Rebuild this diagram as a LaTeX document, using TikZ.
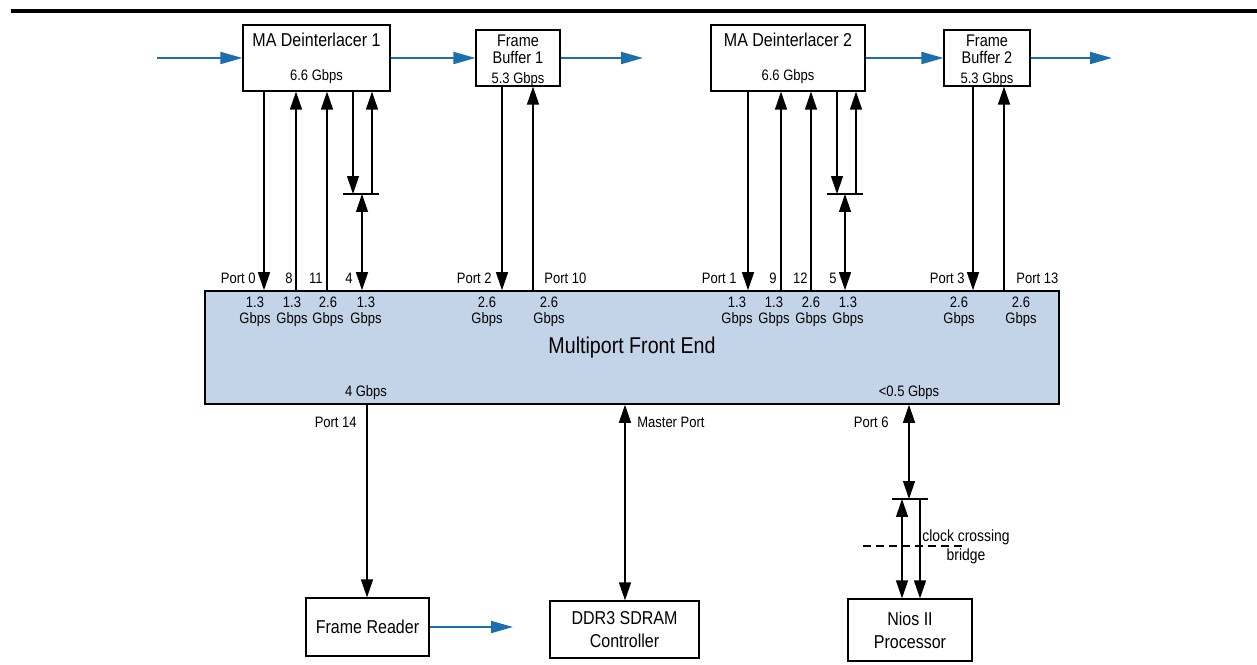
\documentclass[tikz,border=0pt]{standalone}
\usepackage{fontspec}
\setmainfont{Liberation Sans}[FakeStretch=0.86]
\usetikzlibrary{arrows.meta,positioning,calc}
\definecolor{feblue}{RGB}{196,212,232}
\definecolor{flowblue}{RGB}{28,110,172}

\newcommand{\boxfont}{\fontsize{10.6}{10.2}\selectfont}
\newcommand{\fbfont}{\fontsize{9.6}{9.4}\selectfont}
\newcommand{\smallfont}{\fontsize{8.6}{9}\selectfont}

\tikzset{
	blk/.style={draw, line width=0.7pt, fill=white, align=center, inner sep=0pt, font=\boxfont},
	lbl/.style={font=\smallfont, inner sep=0pt},
	rate/.style={lbl, align=center},
	bus/.style={line width=0.7pt},
	flow/.style={draw=flowblue, line width=1.1pt, -{Triangle[length=0.44cm,width=0.24cm]}},
	>={Triangle[length=0.36cm,width=0.24cm]}
}

\begin{document}
\begin{tikzpicture}[x=0.02cm, y=-0.02cm]

	\useasboundingbox (0,0) rectangle (1257,665);

	% Title rule
	\coordinate (rulel) at (11,11);
	\coordinate (ruler) at (1257,11);
	\draw[line width=1.8pt] (rulel) -- (ruler);

	% Nodes
	\node[blk, minimum width=2.94cm, minimum height=1.32cm] (di1) at (316.5,58) {MA Deinterlacer 1\\[9pt]{\smallfont 6.6 Gbps}};
	\node[blk, minimum width=1.68cm, minimum height=1.12cm] (fb1) at (518,58) {};
	\node[align=center, inner sep=0pt, font=\fbfont] (fb1t) at ([yshift=-1.6pt]fb1.center) {Frame\\Buffer 1\\[2pt]{\smallfont 5.3 Gbps}};
	\node[blk, minimum width=3.08cm, minimum height=1.32cm] (di2) at (788,58) {MA Deinterlacer 2\\[9pt]{\smallfont 6.6 Gbps}};
	\node[blk, minimum width=1.72cm, minimum height=1.12cm] (fb2) at (987,58) {};
	\node[align=center, inner sep=0pt, font=\fbfont] (fb2t) at ([yshift=-1.6pt]fb2.center) {Frame\\Buffer 2\\[2pt]{\smallfont 5.3 Gbps}};

	\node[draw, line width=0.9pt, fill=feblue, minimum width=17.08cm, minimum height=2.26cm, font=\fontsize{13}{15}\selectfont] (fe) at (632,347.5) {Multiport Front End};

	\node[blk, minimum width=2.46cm, minimum height=1.16cm] (fr) at (367.5,627) {Frame Reader};
	\node[blk, minimum width=2.98cm, minimum height=1.14cm] (ddr) at (624.5,629.5) {DDR3 SDRAM\\[3pt]Controller};
	\node[blk, minimum width=2.48cm, minimum height=1.24cm] (nios) at (910,630) {Nios II\\[3pt]Processor};

	% Port columns
	\coordinate (p0) at (264,0);
	\coordinate (p8) at (296,0);
	\coordinate (p11) at (327,0);
	\coordinate (p4d) at (353,0);
	\coordinate (p4u) at (372,0);
	\coordinate (p4) at (362,0);
	\coordinate (p2) at (502,0);
	\coordinate (p10) at (533,0);
	\coordinate (p1) at (748,0);
	\coordinate (p9) at (781,0);
	\coordinate (p12) at (811,0);
	\coordinate (p5d) at (837,0);
	\coordinate (p5u) at (856,0);
	\coordinate (p5) at (845,0);
	\coordinate (p3) at (973,0);
	\coordinate (p13) at (1004,0);
	\coordinate (p14) at (367,0);
	\coordinate (pm) at (625,0);
	\coordinate (p6) at (909,0);
	\coordinate (n1) at (902,0);
	\coordinate (n2) at (920,0);

	% Bridges
	\coordinate (br1l) at (343,194);
	\coordinate (br1r) at (379,194);
	\coordinate (br2l) at (827,194);
	\coordinate (br2r) at (863,194);
	\coordinate (br3l) at (892,499);
	\coordinate (br3r) at (928,499);
	\draw[bus] (br1l) -- (br1r);
	\draw[bus] (br2l) -- (br2r);
	\draw[bus] (br3l) -- (br3r);

	% Lines
	\draw[bus, ->] (di1.south -| p0) -- (fe.north -| p0);
	\draw[bus, <-] (di1.south -| p8) -- (fe.north -| p8);
	\draw[bus, <-] (di1.south -| p11) -- (fe.north -| p11);
	\draw[bus, ->] (di1.south -| p4d) -- (br1l -| p4d);
	\draw[bus, <-] (di1.south -| p4u) -- (br1l -| p4u);
	\draw[bus, <->] (br1l -| p4) -- (fe.north -| p4);
	\draw[bus, ->] (fb1.south -| p2) -- (fe.north -| p2);
	\draw[bus, <-] (fb1.south -| p10) -- (fe.north -| p10);

	\draw[bus, ->] (di2.south -| p1) -- (fe.north -| p1);
	\draw[bus, <-] (di2.south -| p9) -- (fe.north -| p9);
	\draw[bus, <-] (di2.south -| p12) -- (fe.north -| p12);
	\draw[bus, ->] (di2.south -| p5d) -- (br2l -| p5d);
	\draw[bus, <-] (di2.south -| p5u) -- (br2l -| p5u);
	\draw[bus, <->] (br2l -| p5) -- (fe.north -| p5);
	\draw[bus, ->] (fb2.south -| p3) -- (fe.north -| p3);
	\draw[bus, <-] (fb2.south -| p13) -- (fe.north -| p13);

	\draw[bus, ->] (fe.south -| p14) -- (fr.north -| p14);
	\draw[bus, <->] (fe.south -| pm) -- (ddr.north -| pm);
	\draw[bus, <->] (fe.south -| p6) -- (br3l -| p6);
	\draw[bus, <->] (br3l -| n1) -- (nios.north -| n1);
	\draw[bus, ->] (br3l -| n2) -- (nios.north -| n2);

	% clock crossing
	\coordinate (ck1) at (863,546);
	\coordinate (ck2) at (963,546);
	\draw[line width=0.6pt, dash pattern=on 0.16cm off 0.1cm] (ck1) -- (ck2);
	\node[align=center, inner sep=0pt, font=\fontsize{9.2}{10.8}\selectfont] (ckb) at (966,547) {clock crossing\\bridge};

	% Data flow
	\coordinate (in1) at (157,58);
	\coordinate (out1) at (643,58);
	\coordinate (out2) at (1112,58);
	\coordinate (frout) at (513,627);
	\draw[flow] (in1) -- (di1.west);
	\draw[flow] (di1.east) -- (fb1.west);
	\draw[flow] (fb1.east) -- (out1);
	\draw[flow] (di2.east) -- (fb2.west);
	\draw[flow] (fb2.east) -- (out2);
	\draw[flow] (fr.east) -- (frout);

	% Port labels
	\node[lbl, anchor=base east] (l0) at (256,284) {Port 0};
	\node[lbl, anchor=base east] (l8) at (293,284) {8};
	\node[lbl, anchor=base east] (l11) at (323,284) {11};
	\node[lbl, anchor=base east] (l4) at (353,284) {4};
	\node[lbl, anchor=base east] (l2) at (492,284) {Port 2};
	\node[lbl, anchor=base west] (l10) at (544,284) {Port 10};
	\node[lbl, anchor=base east] (l1) at (737,284) {Port 1};
	\node[lbl, anchor=base east] (l9) at (777,284) {9};
	\node[lbl, anchor=base east] (l12) at (808,284) {12};
	\node[lbl, anchor=base east] (l5) at (837,284) {5};
	\node[lbl, anchor=base east] (l3) at (965,284) {Port 3};
	\node[lbl, anchor=base west] (l13) at (1016,284) {Port 13};
	\node[lbl, anchor=base east] (l14) at (357,427) {Port 14};
	\node[lbl, anchor=base west] (lm) at (637,427) {Master Port};
	\node[lbl, anchor=base east] (l6) at (889,427) {Port 6};

	% Rates
	\node[rate] (r0) at (255,312) {1.3\\Gbps};
	\node[rate] (r8) at (292,312) {1.3\\Gbps};
	\node[rate] (r11) at (328,312) {2.6\\Gbps};
	\node[rate] (r4) at (366,312) {1.3\\Gbps};
	\node[rate] (r2) at (487,312) {2.6\\Gbps};
	\node[rate] (r10) at (549,312) {2.6\\Gbps};
	\node[rate] (r1) at (737,312) {1.3\\Gbps};
	\node[rate] (r9) at (774,312) {1.3\\Gbps};
	\node[rate] (r12) at (811,312) {2.6\\Gbps};
	\node[rate] (r5) at (848,312) {1.3\\Gbps};
	\node[rate] (r3) at (959,312) {2.6\\Gbps};
	\node[rate] (r13) at (1021,312) {2.6\\Gbps};
	\node[rate] (r14) at (366,393) {4 Gbps};
	\node[rate] (r6) at (909,393) {<0.5 Gbps};

\end{tikzpicture}
\end{document}
